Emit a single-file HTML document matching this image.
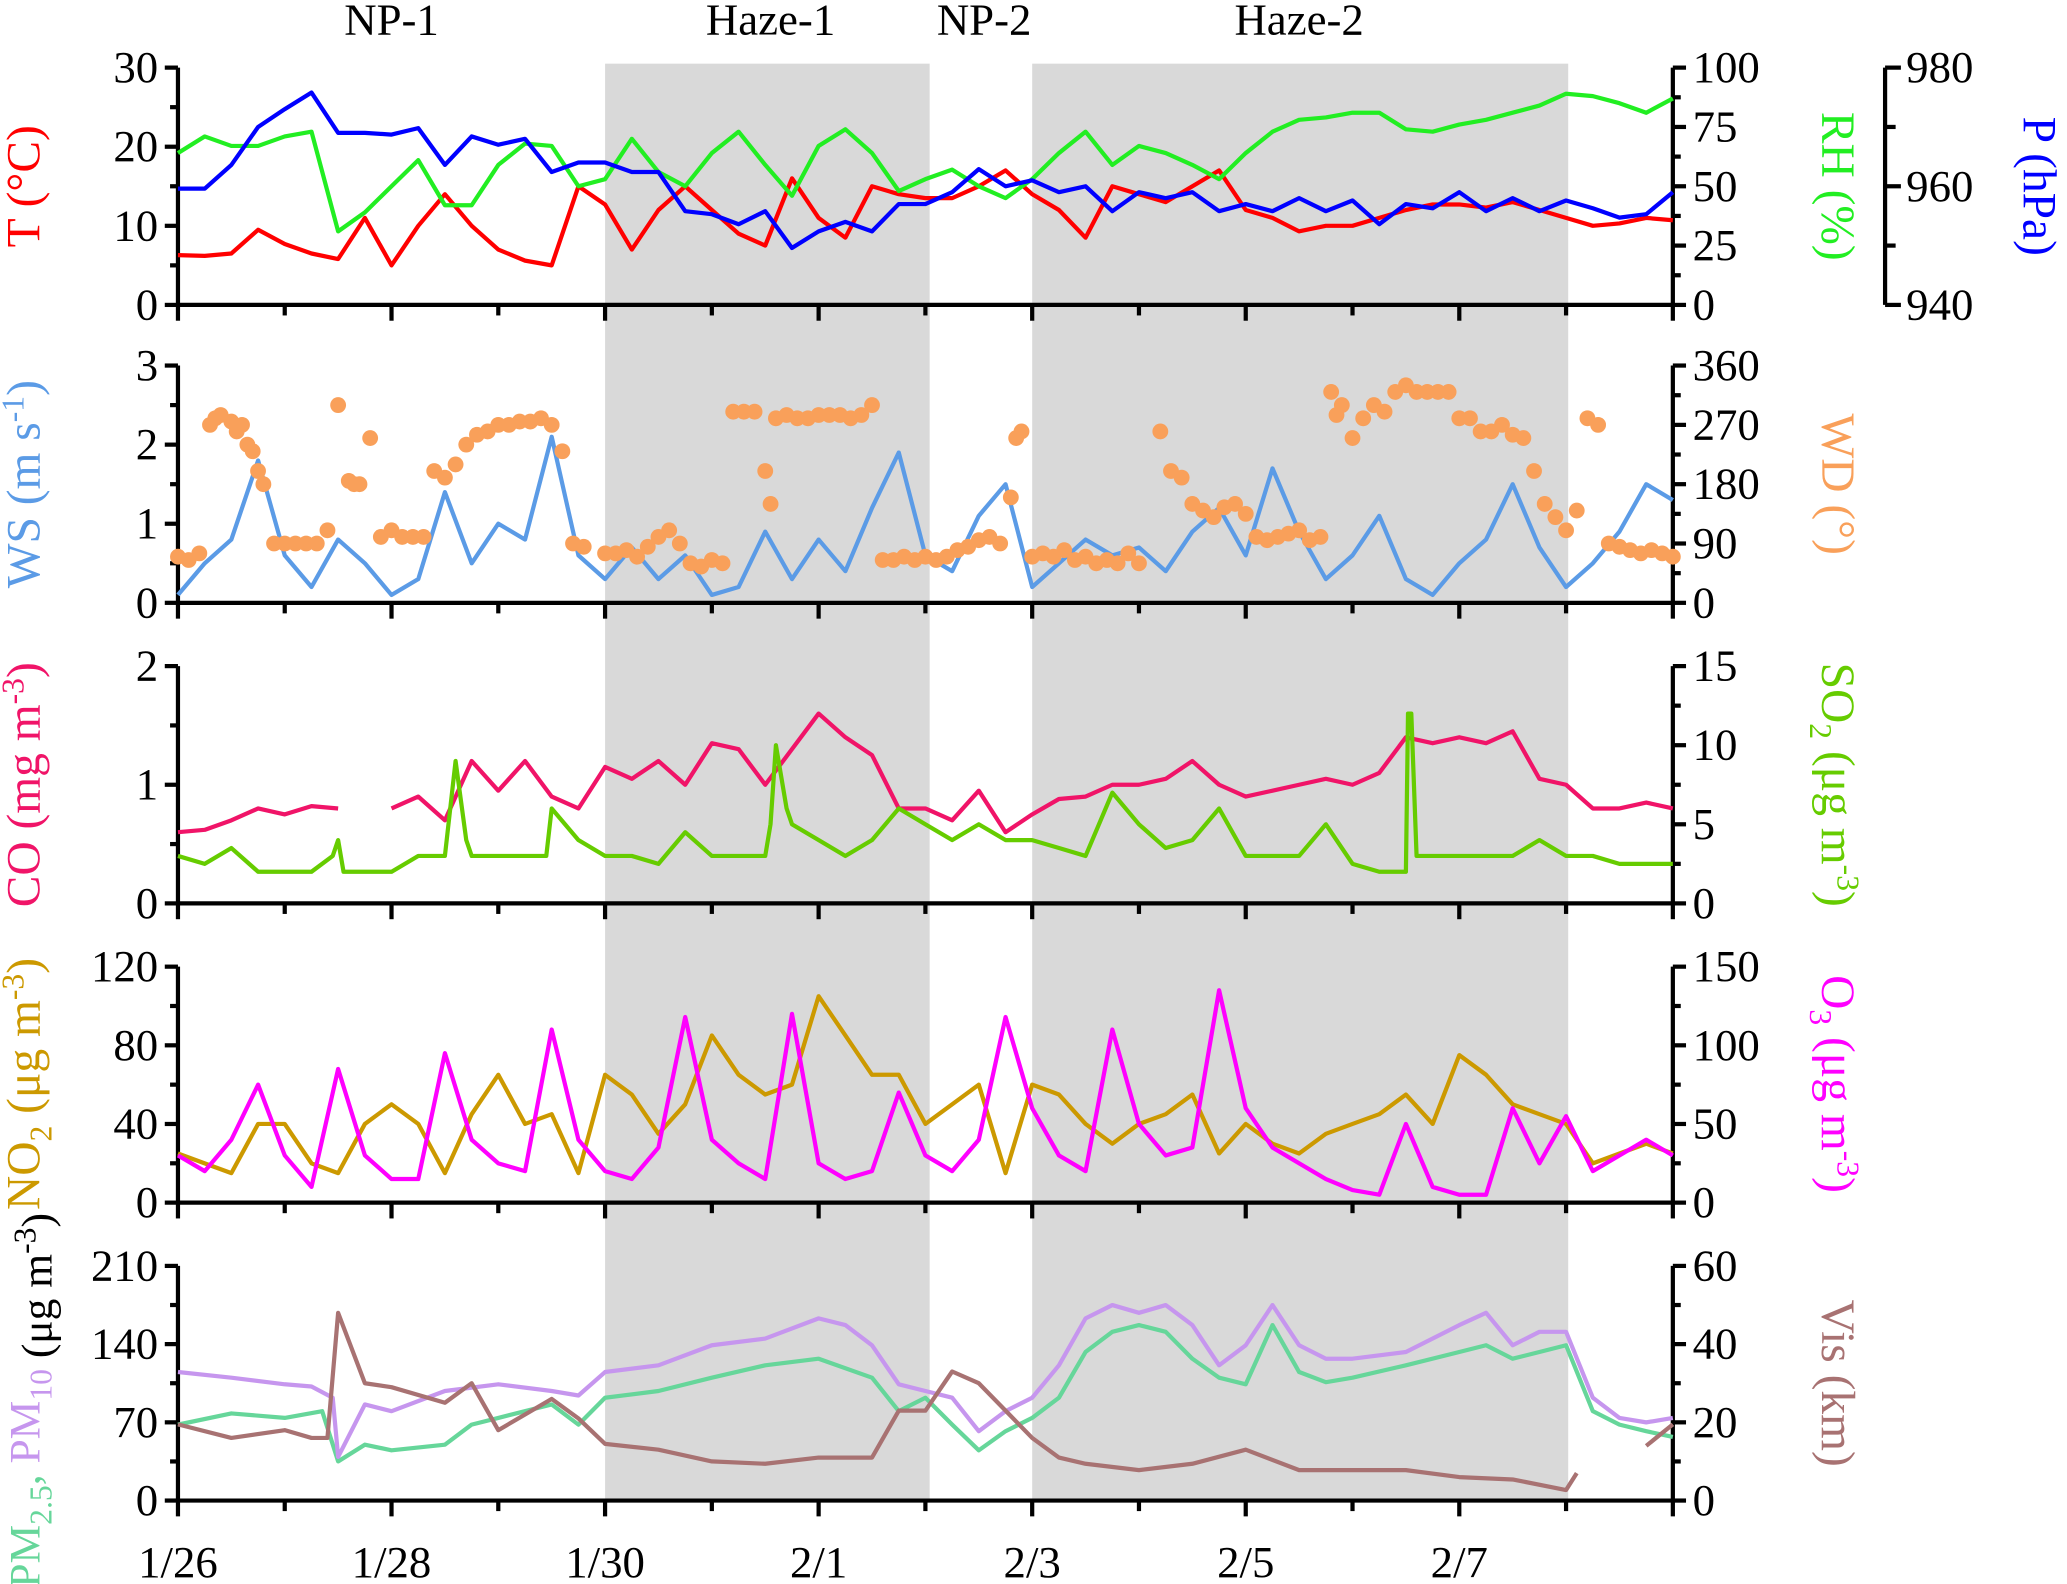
<!DOCTYPE html>
<html><head><meta charset="utf-8"><style>
html,body{margin:0;padding:0;background:#fff;}
svg{display:block;font-family:"Liberation Serif",serif;}
</style></head><body>
<svg id="chart" width="2067" height="1584" viewBox="0 0 1568 1201" xmlns="http://www.w3.org/2000/svg"></svg>
<script>
// ---------- data ----------
const gridDays = [0,0.25,0.5,0.75,1,1.25,1.5,1.75,2,2.25,2.5,2.75,3,3.25,3.5,3.75,4,4.25,4.5,4.75,5,5.25,5.5,5.75,6,6.25,6.5,6.75,7,7.25,7.5,7.75,8,8.25,8.5,8.75,9,9.25,9.5,9.75,10,10.25,10.5,10.75,11,11.25,11.5,11.75,12,12.25,12.5,12.75,13,13.25,13.5,13.75,14];
const xTickLabels = ["1/26","1/28","1/30","2/1","2/3","2/5","2/7"];
const periodLabels = ["NP-1","Haze-1","NP-2","Haze-2"];
const periodCenters = [2.0,5.55,7.55,10.5];
const hazeStart = [4,8];
const hazeEnd = [7.04,13.02];

const tempVals = [6.3,6.2,6.5,9.5,7.7,6.5,5.8,11,5,10,14,10,7,5.6,5,15,12.7,7,12,15,12,9,7.5,16,11,8.5,15,14,13.5,13.5,15,17,14,12,8.5,15,14,13,15,17,12,11,9.3,10,10,11,12,12.7,12.7,12.3,13,12,11,10,10.3,11,10.7];
const rhVals = [64,71,67,67,71,73,31,39,50,61,42,42,59,68,67,50,53,70,56,50,64,73,59,46,67,74,64,48,53,57,50,45,53,64,73,59,67,64,59,53,64,73,78,79,81,81,74,73,76,78,81,84,89,88,85,81,87];
const presVals = [959.6,959.6,963.6,970,973,975.8,969,969,968.7,969.8,963.6,968.4,967,968,962.4,964,964,962.4,962.4,955.8,955.3,953.6,955.8,949.6,952.4,954,952.4,957,957,959,962.9,960,961,959,960,955.8,959,958,959,955.8,957,955.8,958,955.8,957.6,953.6,957,956.3,959,955.8,958,955.8,957.6,956.3,954.7,955.3,959];
const wsVals = [0.1,0.5,0.8,1.8,0.6,0.2,0.8,0.5,0.1,0.3,1.4,0.5,1.0,0.8,2.1,0.6,0.3,0.7,0.3,0.6,0.1,0.2,0.9,0.3,0.8,0.4,1.2,1.9,0.6,0.4,1.1,1.5,0.2,0.5,0.8,0.6,0.7,0.4,0.9,1.2,0.6,1.7,0.9,0.3,0.6,1.1,0.3,0.1,0.5,0.8,1.5,0.7,0.2,0.5,0.9,1.5,1.3];
const wdDays = [0,0.1,0.2,0.3,0.35,0.4,0.5,0.55,0.6,0.65,0.7,0.75,0.8,0.9,1.0,1.1,1.2,1.3,1.4,1.5,1.6,1.65,1.7,1.8,1.9,2.0,2.1,2.2,2.3,2.4,2.5,2.6,2.7,2.8,2.9,3.0,3.1,3.2,3.3,3.4,3.5,3.6,3.7,3.8,4.0,4.1,4.2,4.3,4.4,4.5,4.6,4.7,4.8,4.9,5.0,5.1,5.2,5.3,5.4,5.5,5.55,5.6,5.7,5.8,5.9,6.0,6.1,6.2,6.3,6.4,6.5,6.6,6.7,6.8,6.9,7.0,7.1,7.2,7.3,7.4,7.5,7.6,7.7,7.8,7.85,7.9,8.0,8.1,8.2,8.3,8.4,8.5,8.6,8.7,8.8,8.9,9.0,9.2,9.3,9.4,9.5,9.6,9.7,9.8,9.9,10.0,10.1,10.2,10.3,10.4,10.5,10.6,10.7,10.8,10.85,10.9,11.0,11.1,11.2,11.3,11.4,11.5,11.6,11.7,11.8,11.9,12.0,12.1,12.2,12.3,12.4,12.5,12.6,12.7,12.8,12.9,13.0,13.1,13.2,13.3,13.4,13.5,13.6,13.7,13.8,13.9,14.0];
const wdVals = [70,65,75,270,280,285,275,260,270,240,230,200,180,90,90,90,90,90,110,300,185,180,180,250,100,110,100,100,100,200,190,210,240,255,260,270,270,275,275,280,270,230,90,85,75,75,80,70,85,100,110,90,60,55,65,60,290,290,290,200,150,280,285,280,280,285,285,285,280,285,300,65,65,70,65,70,65,70,80,85,95,100,90,160,250,260,70,75,70,80,65,70,60,65,60,75,60,260,200,190,150,140,130,145,150,135,100,95,100,105,110,95,100,320,285,300,250,280,300,290,320,330,320,320,320,320,280,280,260,260,270,255,250,200,150,130,110,140,280,270,90,85,80,75,80,75,70];
const coDays = gridDays;
const coVals = [0.6,0.62,0.7,0.8,0.75,0.82,0.8,null,0.8,0.9,0.7,1.2,0.95,1.2,0.9,0.8,1.15,1.05,1.2,1.0,1.35,1.3,1.0,1.3,1.6,1.4,1.25,0.8,0.8,0.7,0.95,0.6,0.75,0.88,0.9,1.0,1.0,1.05,1.2,1.0,0.9,0.95,1.0,1.05,1.0,1.1,1.4,1.35,1.4,1.35,1.45,1.05,1.0,0.8,0.8,0.85,0.8];
const so2Days = [0,0.25,0.5,0.75,1,1.25,1.45,1.5,1.55,1.75,2,2.25,2.5,2.6,2.7,2.75,3,3.25,3.45,3.5,3.75,4,4.25,4.5,4.75,5,5.25,5.5,5.55,5.6,5.7,5.75,6,6.25,6.5,6.75,7,7.25,7.5,7.75,8,8.25,8.5,8.75,9,9.25,9.5,9.75,10,10.25,10.5,10.75,11,11.25,11.5,11.52,11.55,11.6,11.75,12,12.25,12.5,12.75,13,13.25,13.5,13.75,14];
const so2Vals = [3,2.5,3.5,2,2,2,3,4,2,2,2,3,3,9,4,3,3,3,3,6,4,3,3,2.5,4.5,3,3,3,5,10,6,5,4,3,4,6,5,4,5,4,4,3.5,3,7,5,3.5,4,6,3,3,3,5,2.5,2,2,12,12,3,3,3,3,3,4,3,3,2.5,2.5,2.5];
const no2Vals = [25,20,15,40,40,20,15,40,50,40,15,45,65,40,45,15,65,55,35,50,85,65,55,60,105,85,65,65,40,50,60,15,60,55,40,30,40,45,55,25,40,30,25,35,40,45,55,40,75,65,50,45,40,20,25,30,25];
const o3Vals = [30,20,40,75,30,10,85,30,15,15,95,40,25,20,110,40,20,15,35,118,40,25,15,120,25,15,20,70,30,20,40,118,60,30,20,110,50,30,35,135,60,35,25,15,8,5,50,10,5,5,60,25,55,20,30,40,30];
const pm25Days = [0,0.5,1,1.35,1.5,1.75,2,2.5,2.75,3,3.5,3.75,4,4.5,5,5.5,6,6.5,6.75,7,7.25,7.5,7.75,8,8.25,8.5,8.75,9,9.25,9.5,9.75,10,10.25,10.5,10.75,11,11.5,12,12.25,12.5,12.75,13,13.25,13.5,13.75,14];
const pm25Vals = [68,78,74,80,35,50,45,50,68,74,86,68,92,98,110,121,127,110,80,92,68,45,62,74,92,133,151,157,151,127,110,104,157,115,106,110,121,133,139,127,133,139,80,68,62,57];
const pm10Days = [0,0.5,1,1.25,1.45,1.5,1.75,2,2.5,3,3.5,3.75,4,4.5,5,5.5,6,6.25,6.5,6.75,7,7.25,7.5,7.75,8,8.25,8.5,8.75,9,9.25,9.5,9.75,10,10.25,10.5,10.75,11,11.5,12,12.25,12.5,12.75,13,13.25,13.5,13.75,14];
const pm10Vals = [115,110,104,102,92,39,86,80,98,104,98,94,115,121,139,145,163,157,139,104,98,92,62,80,92,121,163,175,168,175,157,121,139,175,139,127,127,133,157,168,139,151,151,92,74,70,74];
const visDays = [0,0.5,1,1.25,1.4,1.5,1.75,2,2.5,2.75,3,3.5,3.75,4,4.5,5,5.5,6,6.5,6.75,7,7.25,7.5,7.75,8,8.25,8.5,9,9.5,10,10.5,11,11.5,12,12.5,13,13.1,13.2,13.5,13.75,14];
const visVals = [19.5,16,18,16,16,48,30,29,25,30,18,26,21,14.5,13,10,9.4,11,11,23,23,33,30,23,16,11,9.4,7.8,9.4,13,7.8,7.8,7.8,6,5.4,2.7,7,null,null,14,19.5];

// ---------- layout ----------
const svg = document.getElementById('chart');
const NS = 'http://www.w3.org/2000/svg';
const X0 = 135, X1 = 1269, DAYS = 14;
const FS = 34;
const xs = d => X0 + (X1 - X0) * d / DAYS;
function el(tag, attrs, parent){ const e=document.createElementNS(NS,tag); for(const k in attrs) e.setAttribute(k,attrs[k]); (parent||svg).appendChild(e); return e; }
function scaleY(top,bot,min,max){ return v => bot - (bot-top)*(v-min)/(max-min); }

for(let i=0;i<hazeStart.length;i++){
  const r = el('rect',{x:xs(hazeStart[i]),y:48,width:xs(hazeEnd[i])-xs(hazeStart[i]),height:1138-48,fill:'#d9d9d9'});
  
  
}
periodLabels.forEach((t,i)=>{
  const tx = el('text',{x:xs(periodCenters[i]),y:26,'font-size':FS,'text-anchor':'middle'});
  tx.textContent=t;
  
  
});

const panels = [
 {top:51,bot:231,lmin:0,lmax:30,lt:[0,10,20,30],rmin:0,rmax:100,rt:[0,25,50,75,100]},
 {top:277,bot:457,lmin:0,lmax:3,lt:[0,1,2,3],rmin:0,rmax:360,rt:[0,90,180,270,360]},
 {top:505,bot:685,lmin:0,lmax:2,lt:[0,1,2],rmin:0,rmax:15,rt:[0,5,10,15]},
 {top:733,bot:912,lmin:0,lmax:120,lt:[0,40,80,120],rmin:0,rmax:150,rt:[0,50,100,150]},
 {top:960,bot:1138,lmin:0,lmax:210,lt:[0,70,140,210],rmin:0,rmax:60,rt:[0,20,40,60]}
];
const AX = {stroke:'#000','stroke-width':3.2,fill:'none'};
panels.forEach((p,pi)=>{
  const g = el('g',{});
  
  
  el('line',Object.assign({x1:X0,y1:p.top,x2:X0,y2:p.bot+1.5},AX),g);
  el('line',Object.assign({x1:X1,y1:p.top,x2:X1,y2:p.bot+1.5},AX),g);
  el('line',Object.assign({x1:X0-1.5,y1:p.bot,x2:X1+1.5,y2:p.bot},AX),g);
  for(let d=0; d<=DAYS; d++){
    el('line',Object.assign({x1:xs(d),y1:p.bot,x2:xs(d),y2:p.bot+(d%2===0?12:8)},AX),g);
  }
  const ly = scaleY(p.top,p.bot,p.lmin,p.lmax);
  const step = p.lt[1]-p.lt[0];
  p.lt.forEach((v,i)=>{
    el('line',Object.assign({x1:X0-10,y1:ly(v),x2:X0,y2:ly(v)},AX),g);
    if(i<p.lt.length-1) el('line',Object.assign({x1:X0-6,y1:ly(v+step/2),x2:X0,y2:ly(v+step/2)},AX),g);
    const t=el('text',{x:X0-15,y:ly(v)+11,'font-size':FS,'text-anchor':'end'},g); t.textContent=v;
  });
  const ry = scaleY(p.top,p.bot,p.rmin,p.rmax);
  const rs = p.rt[1]-p.rt[0];
  p.rt.forEach((v,i)=>{
    el('line',Object.assign({x1:X1,y1:ry(v),x2:X1+10,y2:ry(v)},AX),g);
    if(i<p.rt.length-1) el('line',Object.assign({x1:X1,y1:ry(v+rs/2),x2:X1+6,y2:ry(v+rs/2)},AX),g);
    const t=el('text',{x:X1+15,y:ry(v)+11,'font-size':FS,'text-anchor':'start'},g); t.textContent=v;
  });
});
const pAxis = el('g',{});


const PX=1430, pY = scaleY(51,231,940,980);
el('line',Object.assign({x1:PX,y1:51,x2:PX,y2:231},AX),pAxis);
[940,950,960,970,980].forEach(v=>{
  el('line',Object.assign({x1:PX,y1:pY(v),x2:PX+(v%20===0?12:8),y2:pY(v)},AX),pAxis);
  if(v%20===0){const t=el('text',{x:PX+16,y:pY(v)+11,'font-size':FS},pAxis); t.textContent=v;}
});
xTickLabels.forEach((t,i)=>{
  const tx=el('text',{x:xs(i*2),y:1196,'font-size':FS,'text-anchor':'middle'});
  tx.textContent=t;
  
  
});

function line(days,vals,ysc,color,name){
  let d='',pen=false;
  vals.forEach((v,i)=>{ if(v===null){pen=false;return;} d+=(pen?'L':'M')+xs(days[i]).toFixed(1)+','+ysc(v).toFixed(1); pen=true; });
  const p=el('path',{d:d,stroke:color,'stroke-width':3.2,fill:'none','stroke-linejoin':'round'});
  
  
}
const P=panels;
line(gridDays,tempVals,scaleY(P[0].top,P[0].bot,0,30),'#ff0000','temperature-line');
line(gridDays,rhVals,scaleY(P[0].top,P[0].bot,0,100),'#22ee22','rh-line');
line(gridDays,presVals,pY,'#0000ff','pressure-line');
line(gridDays,wsVals,scaleY(P[1].top,P[1].bot,0,3),'#5b9be6','wind-speed-line');
const wdY = scaleY(P[1].top,P[1].bot,0,360);
wdVals.forEach((v,i)=>{
  const c=el('circle',{cx:xs(wdDays[i]),cy:wdY(v),r:6,fill:'#f9a05a'});
  
  
});
line(coDays,coVals,scaleY(P[2].top,P[2].bot,0,2),'#f01468','co-line');
line(so2Days,so2Vals,scaleY(P[2].top,P[2].bot,0,15),'#66cc00','so2-line');
line(gridDays,no2Vals,scaleY(P[3].top,P[3].bot,0,120),'#cc9900','no2-line');
line(gridDays,o3Vals,scaleY(P[3].top,P[3].bot,0,150),'#ff00ff','o3-line');
line(pm25Days,pm25Vals,scaleY(P[4].top,P[4].bot,0,210),'#66d69a','pm25-line');
line(pm10Days,pm10Vals,scaleY(P[4].top,P[4].bot,0,210),'#c696ee','pm10-line');
line(visDays,visVals,scaleY(P[4].top,P[4].bot,0,60),'#a87272','visibility-line');

function vtitle(x,y,rot,html,name,fs){
  const t=el('text',{x:0,y:0,'font-size':fs||36,'text-anchor':'middle',transform:'translate('+x+','+y+') rotate('+rot+')'});
  t.innerHTML=html;
  
  
}
const sup=s=>'<tspan dy="-12" font-size="24">'+s+'</tspan><tspan dy="12">';
const sub=s=>'<tspan dy="9" font-size="24">'+s+'</tspan><tspan dy="-9">';
vtitle(30,141,-90,'<tspan fill="#ff0000">T (°C)</tspan>','y-axis-title-temperature');
vtitle(30,367,-90,'<tspan fill="#5b9be6">WS (m s'+sup('-1')+')</tspan></tspan>','y-axis-title-wind-speed');
vtitle(30,595,-90,'<tspan fill="#f01468">CO (mg m'+sup('-3')+')</tspan></tspan>','y-axis-title-co');
vtitle(30,822,-90,'<tspan fill="#cc9900">NO'+sub('2')+' (μg m'+sup('-3')+')</tspan></tspan></tspan>','y-axis-title-no2');
vtitle(30,1062,-90,'<tspan fill="#66d69a">PM'+sub('2.5')+',</tspan></tspan> <tspan fill="#c696ee">PM'+sub('10')+'</tspan></tspan> <tspan fill="#000">(μg m'+sup('-3')+')</tspan></tspan>','y-axis-title-pm',33);
vtitle(1382,141,90,'<tspan fill="#22ee22">RH (%)</tspan>','right-axis-title-rh');
vtitle(1535,141,90,'<tspan fill="#0000ff">P (hPa)</tspan>','right-axis-title-pressure');
vtitle(1382,367,90,'<tspan fill="#f9a05a">WD (°)</tspan>','right-axis-title-wind-direction');
vtitle(1382,595,90,'<tspan fill="#66cc00">SO'+sub('2')+' (μg m'+sup('-3')+')</tspan></tspan></tspan>','right-axis-title-so2');
vtitle(1382,822,90,'<tspan fill="#ff00ff">O'+sub('3')+' (μg m'+sup('-3')+')</tspan></tspan></tspan>','right-axis-title-o3');
vtitle(1382,1049,90,'<tspan fill="#a87272">Vis (km)</tspan>','right-axis-title-visibility');
</script>
</body></html>
